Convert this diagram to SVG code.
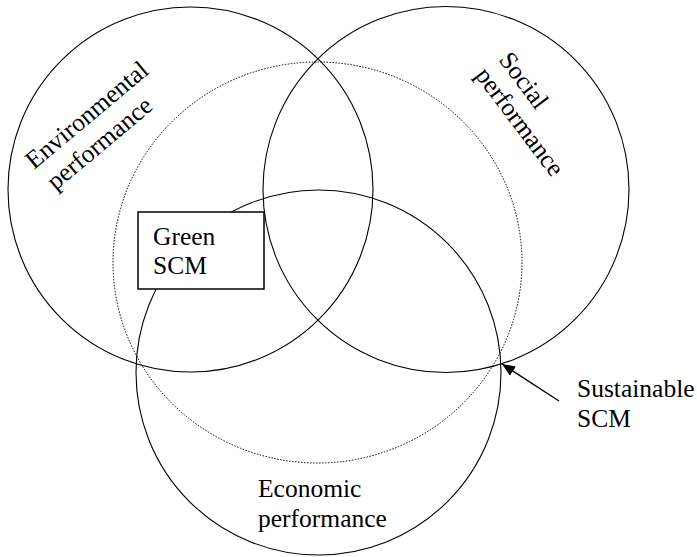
<svg xmlns="http://www.w3.org/2000/svg" width="697" height="557" viewBox="0 0 697 557">
<style>
.c{fill:none;stroke:#000;stroke-width:1.1}
.d{fill:none;stroke:#000;stroke-width:1;stroke-dasharray:1.5,1.5}
.t{font-family:"Liberation Serif","Times New Roman",serif;font-size:25.5px;fill:#000}
</style>
<defs>
<marker id="ah" markerWidth="14" markerHeight="12" refX="13" refY="5.5" orient="auto" markerUnits="userSpaceOnUse">
<path d="M0,0 L13,5.5 L0,11 Z" fill="#000"/>
</marker>
</defs>
<rect width="697" height="557" fill="#fff"/>
<g id="env-circle"><circle class="c" cx="190.5" cy="189.5" r="182.5"/></g>
<g id="soc-circle"><circle class="c" cx="446" cy="189.5" r="183"/></g>
<g id="eco-circle"><circle class="c" cx="318.5" cy="372.5" r="182.5"/></g>
<g id="sustainable-circle"><ellipse class="d" cx="317.5" cy="262.5" rx="204.5" ry="200.5"/></g>
<g id="green-scm">
<rect x="138" y="212" width="126" height="77" fill="#fff" stroke="#000" stroke-width="1.5"/>
<text class="t" x="153" y="245">Green</text>
<text class="t" x="153" y="274">SCM</text>
</g>
<g id="env-label">
<text class="t" transform="translate(34,170) rotate(-40)"><tspan x="0" y="0">Environmental</tspan><tspan x="3" y="30">performance</tspan></text>
</g>
<g id="soc-label">
<text class="t" transform="translate(498,60) rotate(53)"><tspan x="0" y="0">Social</tspan><tspan x="-2" y="28">performance</tspan></text>
</g>
<g id="eco-label">
<text class="t" x="258" y="497">Economic</text>
<text class="t" x="258" y="527">performance</text>
</g>
<g id="sus-label">
<text class="t" x="577" y="397">Sustainable</text>
<text class="t" x="577" y="427">SCM</text>
</g>
<g id="connectors">
<line x1="559" y1="401" x2="502" y2="364" stroke="#000" stroke-width="1.3" marker-end="url(#ah)"/>
</g>
</svg>
